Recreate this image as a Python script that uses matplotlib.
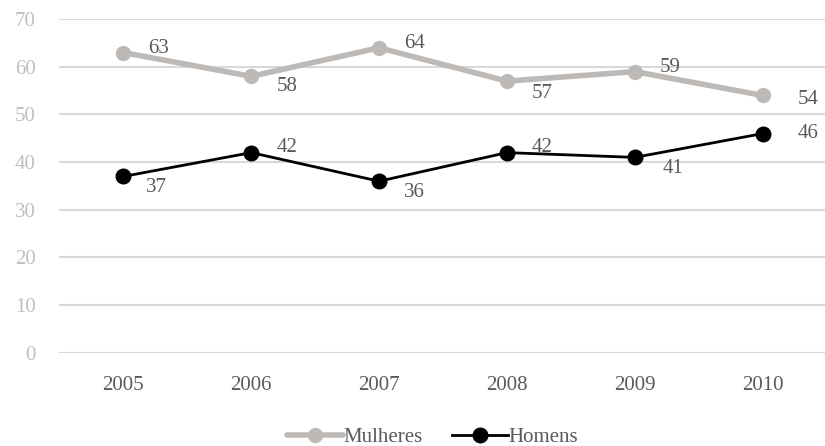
import matplotlib
matplotlib.use("Agg")
import matplotlib.pyplot as plt

plt.rcParams['font.family'] = ['Liberation Serif', 'DejaVu Serif']

years = ['2005', '2006', '2007', '2008', '2009', '2010']
mulheres = [63, 58, 64, 57, 59, 54]
homens = [37, 42, 36, 42, 41, 46]

# label placement per point: (dx, dy) in points
mul_off = [(18, 3), (18, -7), (18, 3), (18, -9), (18, 3), (25, -3)]
hom_off = [(16, -8), (18, 4), (18, -8), (18, 4), (20, -8), (25, 0)]

grey = '#bdb9b6'
text_grey = '#595959'

fig = plt.figure(figsize=(8.25, 4.46), dpi=100)
ax = fig.add_axes([0.072, 0.209, 0.93, 0.748])

x = list(range(len(years)))
ax.plot(x, mulheres, color=grey, lw=4, marker='o', ms=10, label='Mulheres',
        solid_capstyle='round', zorder=3)
ax.plot(x, homens, color='black', lw=2, marker='o', ms=10.5, label='Homens', zorder=3)

for i in x:
    ax.annotate(str(mulheres[i]), (i, mulheres[i]), xytext=mul_off[i],
                textcoords='offset points', ha='left', va='center',
                fontsize=15, color=text_grey)
    ax.annotate(str(homens[i]), (i, homens[i]), xytext=hom_off[i],
                textcoords='offset points', ha='left', va='center',
                fontsize=15, color=text_grey)

ax.set_xlim(-0.5, 5.5)
ax.set_ylim(0, 70)
ax.set_yticks(range(0, 71, 10))
ax.set_xticks(x)
ax.set_xticklabels(years)
ax.grid(axis='y', color='#d9d9d9', lw=1.5)
ax.set_axisbelow(True)
for s in ax.spines.values():
    s.set_visible(False)
ax.tick_params(axis='both', length=0, labelsize=15)
ax.tick_params(axis='y', colors='#bfbfbf', pad=17)
ax.tick_params(axis='x', colors=text_grey, pad=17)

leg = fig.legend(loc='lower center', bbox_to_anchor=(0.524, -0.045), ncol=2,
                 frameon=False, fontsize=15, handlelength=2.7,
                 handletextpad=0.0, columnspacing=1.4)
for t in leg.get_texts():
    t.set_color(text_grey)

fig.savefig('out.png', dpi=100)
